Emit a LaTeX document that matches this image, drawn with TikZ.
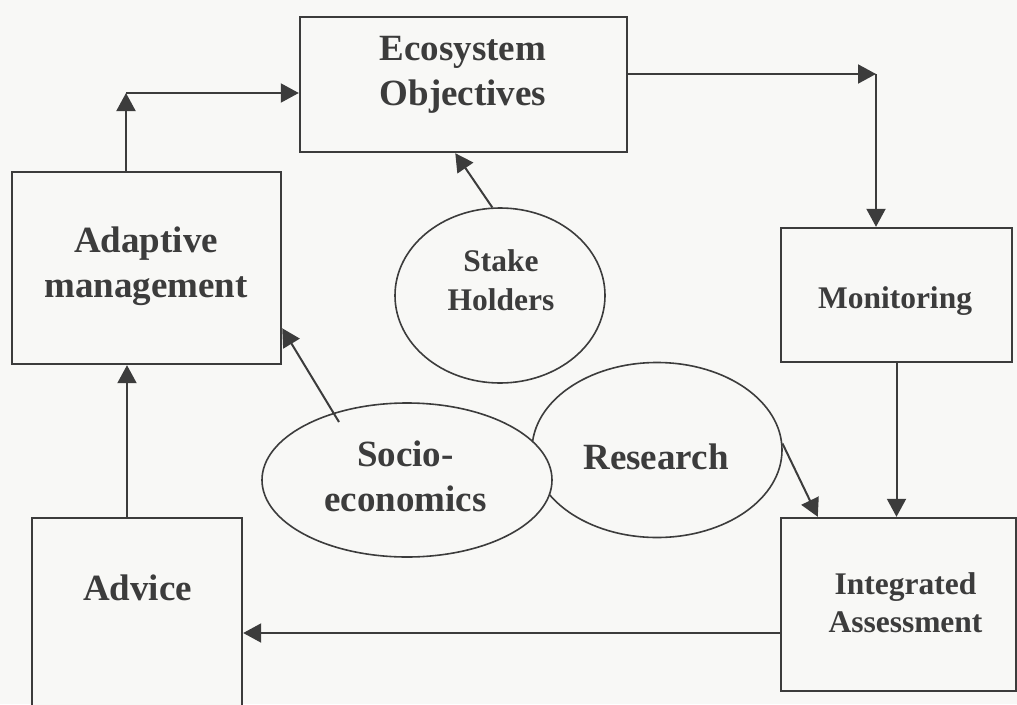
\documentclass[tikz,border=0pt]{standalone}
\usepackage{fontspec}
\setmainfont{Liberation Serif}
\usetikzlibrary{arrows.meta,shapes.geometric,calc}
\definecolor{ink}{HTML}{3C3C3C}
\definecolor{paper}{HTML}{F8F8F6}
\begin{document}
\begin{tikzpicture}[x=1pt,y=-1pt,
  box/.style={draw=ink, line width=2.4pt, rectangle, inner sep=0pt, fill=paper},
  oval/.style={draw=ink, line width=1.6pt, ellipse, inner sep=0pt, fill=paper},
  arr/.style={draw=ink, line width=2pt, -{Triangle[length=18pt,width=19pt]}},
  bigtxt/.style={font=\bfseries\fontsize{37}{45}\selectfont, text=ink, inner sep=0pt, align=center},
  smalltxt/.style={font=\bfseries\fontsize{31.5}{38.5}\selectfont, text=ink, inner sep=0pt, align=center}]
\useasboundingbox (0,0) rectangle (1017,704);
\clip (0,0) rectangle (1017,704);
\fill[paper] (0,0) rectangle (1017,704);

% boxes
\node[box, minimum width=327pt, minimum height=135pt] (eco) at (463.5,84.5) {};
\node[box, minimum width=269pt, minimum height=192pt] (adapt) at (146.5,268) {};
\node[box, minimum width=231pt, minimum height=134pt] (moni) at (896.5,295) {};
\node[box, minimum width=235pt, minimum height=173pt] (integ) at (898.5,604.5) {};
\node[box, minimum width=210pt, minimum height=212pt] (advice) at (137,624) {};

% ellipses
\node[oval, minimum width=210pt, minimum height=175pt] (stake) at (500,295.5) {};
\node[oval, minimum width=250pt, minimum height=175pt] (research) at (657,450) {};
\node[oval, minimum width=290pt, minimum height=154pt] (socio) at (407,480) {};

% texts
\node[bigtxt] (ecoT) at (463,75) {Ecosystem\\Objectives};
\node[bigtxt] (adaptT) at (146,266.5) {Adaptive\\management};
\node[smalltxt] (stakeT) at (501,280) {Stake\\Holders};
\node[smalltxt, anchor=base] (moniT) at (895,308) {Monitoring};
\node[bigtxt] (socioT) at (405.5,476) {Socio-\\economics};
\node[bigtxt, anchor=base] (researchT) at (656,469) {Research};
\node[smalltxt] (integT) at (905.5,602.5) {Integrated\\Assessment};
\node[bigtxt, anchor=base] (adviceT) at (137.5,600) {Advice};

% helper coordinates
\coordinate (c1) at (126,93);
\coordinate (c2) at (876,74);
\coordinate (c3) at (500,633);
\coordinate (c4) at (127,450);

% connectors
\draw[arr] (c1 |- adapt.north) -- (c1);
\draw[arr] (c1) -- (c1 -| eco.west);
\draw[arr] (c2 -| eco.east) -- (c2);
\draw[arr] (c2) -- (c2 |- moni.north);
\draw[arr] (moni.south) -- (moni.south |- integ.north);
\draw[arr] (c3 -| integ.west) -- (c3 -| advice.east);
\draw[arr] (c4 |- advice.north) -- (c4 |- adapt.south);
\draw[arr] (stake.95) -- ($(eco.south west)!0.475!(eco.south east)$);
\draw[arr] ($(socio.center)+(-68,-58)$) -- ($(adapt.south east)!0.19!(adapt.north east)$);
\draw[arr] (research.3) -- ($(integ.north west)!0.16!(integ.north east)$);
\end{tikzpicture}
\end{document}
